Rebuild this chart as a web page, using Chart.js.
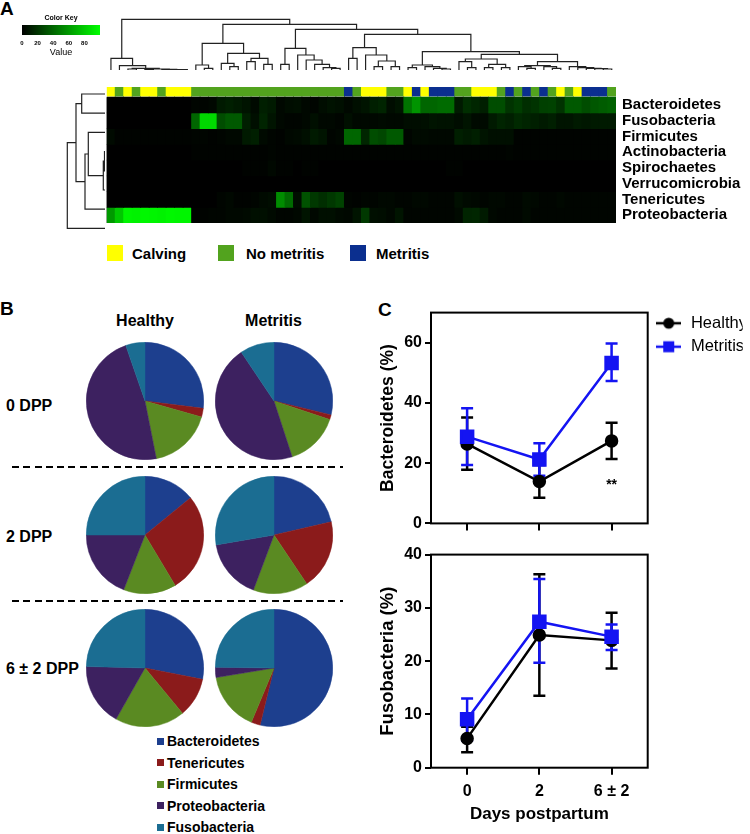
<!DOCTYPE html>
<html>
<head>
<meta charset="utf-8">
<script src="https://cdn.jsdelivr.net/npm/chart.js@4.4.1/dist/chart.umd.min.js"></script>
<style>
  html, body { margin: 0; padding: 0; background: #fff; }
  #fig { position: relative; width: 750px; height: 834px; overflow: hidden; font-family: Arial, "Liberation Sans", sans-serif; color: #000; }
  canvas { position: absolute; }
  .t { position: absolute; font-weight: bold; line-height: 1; white-space: nowrap; }
  .sw { position: absolute; }
  .dash { position: absolute; height: 2px; background: repeating-linear-gradient(90deg, #000 0 7px, transparent 7px 11.3px); }
</style>
</head>
<body>
<div id="fig">
  <div class="t" style="left:0;top:-1px;font-size:19px">A</div>
  <div class="t" style="left:0;top:299px;font-size:19px">B</div>
  <div class="t" style="left:378px;top:299.5px;font-size:19px">C</div>

  <!-- annotation legend -->
  <div class="sw" style="left:107px;top:245px;width:16px;height:16px;background:#ffff00"></div>
  <div class="t" style="left:132px;top:245.5px;font-size:15px">Calving</div>
  <div class="sw" style="left:217.5px;top:245px;width:16px;height:16px;background:#52a31e"></div>
  <div class="t" style="left:246px;top:245.5px;font-size:15px">No metritis</div>
  <div class="sw" style="left:350px;top:245px;width:16px;height:16px;background:#0b2f8f"></div>
  <div class="t" style="left:376px;top:245.5px;font-size:15px">Metritis</div>

  <!-- panel B labels -->
  <div class="t" style="left:75px;width:140px;text-align:center;top:313px;font-size:16px">Healthy</div>
  <div class="t" style="left:203.5px;width:140px;text-align:center;top:313px;font-size:16px">Metritis</div>
  <div class="t" style="left:6px;top:397.7px;font-size:16px">0 DPP</div>
  <div class="t" style="left:6px;top:528.5px;font-size:16px">2 DPP</div>
  <div class="t" style="left:6px;top:661.3px;font-size:16px">6 ± 2 DPP</div>
  <div class="dash" style="left:12px;width:331px;top:466px"></div>
  <div class="dash" style="left:12px;width:331px;top:600px"></div>
  <div id="pieLegend"></div>
</div>
<script>
// ---------- data ----------
const rowNames = ['Bacteroidetes', 'Fusobacteria', 'Firmicutes', 'Actinobacteria',
  'Spirochaetes', 'Verrucomicrobia', 'Tenericutes', 'Proteobacteria'];

// sample groups per heatmap column: Y = Calving, G = No metritis, B = Metritis
const sampleGroups = ('YGYGYYGYYY' + 'GGGGGGGGGGGGGGGGGG' + 'BG' +
  'YYYGGYBYBBBGGYYYGBGBGBGYGYBBBG').split('');
const groupColors = { Y: '#ffff00', G: '#52a31e', B: '#0b2f8f' };

const bacteroidetes = [0,0,0,0,0,0,0,0,0,0, 2,2,3,10,12,10,8,4,12,10, 3,5,6,3,2,5,7,6,3,6,
  8,12,14,5,8,45,58,40,40,42, 42,10,18,15,12,30,30,20,24,18, 20,25,26,20,35,35,30,34,36,38];
const fusobacteria = [0,0,0,0,0,0,0,0,0,0, 40,85,85,30,35,35,12,6,14,8, 3,2,2,3,6,3,3,2,6,3,
  3,3,4,3,3,5,5,6,8,7, 7,5,8,4,4,10,14,12,16,14, 12,10,12,8,8,10,9,10,10,10];
const firmicutes = [4,1,1,1,1,1,1,1,1,1, 2,2,1,2,3,3,10,12,4,2, 1,3,4,6,10,8,2,3,40,40,
  15,30,28,35,35,2,4,4,3,3, 3,12,10,12,8,6,6,6,1,1, 1,1,1,1,1,1,1,1,1,1];
const actinobacteria = [0,0,0,0,0,0,0,0,0,0, 1,1,1,1,1,1,1,1,1,2, 1,1,1,1,1,1,1,1,1,1,
  1,1,1,1,1,1,1,1,1,1, 1,1,1,1,1,1,1,2,1,1, 1,1,1,1,1,1,1,1,1,1];
const spirochaetes = [0,0,0,0,0,0,0,0,0,0, 0,0,0,0,0,0,1,1,1,3, 1,1,0,1,1,0,0,0,0,0,
  0,0,0,0,0,0,0,0,0,0, 1,1,0,0,0,0,0,0,0,0, 0,0,0,0,0,0,0,0,0,0];
const verrucomicrobia = new Array(60).fill(0);
const tenericutes = [0,0,0,0,0,0,0,0,0,0, 0,0,0,2,3,1,1,2,4,5, 55,42,5,32,22,18,22,26,2,1,
  2,2,3,3,2,2,3,3,2,2, 2,6,4,3,2,3,3,2,2,4, 3,2,2,3,2,2,2,2,2,2];
const proteobacteria = [60,78,96,95,97,96,95,97,96,96, 1,1,2,2,3,3,4,6,6,4, 2,2,3,8,3,6,6,4,3,8,
  22,6,5,3,8,2,2,2,2,2, 2,4,14,15,10,3,2,2,2,4, 2,2,2,2,2,2,2,2,2,2];
const heatRows = [bacteroidetes, fusobacteria, firmicutes, actinobacteria,
  spirochaetes, verrucomicrobia, tenericutes, proteobacteria];

// dendrograms: [left, right, height], leaves are column / row indices
const colTree =
  [[0, [1, [[2, 3, 3], [[4, 5, 2], [6, [7, [8, 9, 1], 1.5], 2], 3], 5], 13], 35],
   [[[10, [11, 12, 5], 15], [[13, [14, 15, 10], 20], [[16, 17, 25], [18, 19, 17], 35], 50], 80],
    [[[20, 21, 17], [22, [23, [24, [25, [26, 27, 5], 7], 17], 30], 45], 65],
     [[[28, 29, 35], [30, [[31, 32, 10], [33, 34, 10], 27], 45], 67],
      [[[35, 36, 7], [37, [38, [39, 40, 3], 5], 10], 15],
       [[[41, [42, 43, 7], 25], [[44, 45, 7], [46, 47, 7], 17], 33],
        [[[48, [49, 50, 5], 10], [51, [52, 53, 5], 10], 13],
         [54, [55, [56, [57, [58, 59, 3], 4], 5], 7], 10], 25], 47], 55], 107], 122], 137], 152];
const rowTree = [[[0, 1, 23.3], [[2, [[3, 4, 0.5], 5, 1.7], 16.7], 6, 20], 29], 7, 37.7];

const keyTicks = [0, 20, 40, 60, 80];
const keyRange = [0, 100];

// pies
const phyla = ['Bacteroidetes', 'Tenericutes', 'Firmicutes', 'Proteobacteria', 'Fusobacteria'];
const phylaColors = ['#1d3f8e', '#8b1b1b', '#5a8a22', '#3d2160', '#1b6d92'];
const healthy0 = [27.0, 2.4, 17.5, 47.8, 5.3];
const metritis0 = [28.8, 1.3, 14.9, 45.6, 9.4];
const healthy2 = [14.1, 27.3, 14.5, 19.1, 25.0];
const metritis2 = [21.4, 19.2, 15.1, 16.6, 27.7];
const healthy6 = [28.1, 10.9, 19.2, 17.2, 24.6];
const metritis6 = [53.8, 2.5, 16.1, 2.8, 24.8];

// line charts
const days = ['0', '2', '6 ± 2'];
const healthyBact = [26.4, 13.9, 27.4];
const healthyBactLo = [17.8, 8.5, 21.4];
const healthyBactHi = [35.2, 19.4, 33.4];
const metritisBact = [28.8, 21.2, 53.3];
const metritisBactLo = [19.4, 15.8, 47.3];
const metritisBactHi = [38.2, 26.6, 59.7];
const healthyFuso = [5.5, 24.9, 23.9];
const healthyFusoLo = [2.9, 13.5, 18.6];
const healthyFusoHi = [7.7, 36.3, 29.1];
const metritisFuso = [9.1, 27.4, 24.6];
const metritisFusoLo = [5.1, 19.7, 22.1];
const metritisFusoHi = [13.0, 35.4, 26.9];

// ---------- setup ----------
Chart.defaults.font.family = 'Arial, "Liberation Sans", sans-serif';
Chart.defaults.color = '#000';
Chart.defaults.animation = false;
Chart.defaults.responsive = false;
Chart.defaults.devicePixelRatio = 1;
Chart.defaults.plugins.legend.display = false;
Chart.defaults.plugins.tooltip.enabled = false;

const fig = document.getElementById('fig');
function makeCanvas(left, top, w, h) {
  const c = document.createElement('canvas');
  c.width = w; c.height = h;
  c.style.left = left + 'px'; c.style.top = top + 'px';
  c.style.width = w + 'px'; c.style.height = h + 'px';
  fig.appendChild(c);
  return c;
}

const heatColor = v => `rgb(0,${Math.round(2.55 * Math.min(v, 100))},0)`;

function dendroPoints(node, out) {
  if (typeof node === 'number') return [node, 0];
  const [a, b, h] = node;
  const pa = dendroPoints(a, out), pb = dendroPoints(b, out);
  out.push([pa[0], pa[1]], [pa[0], h], [pb[0], h], [pb[0], pb[1]], null);
  return [(pa[0] + pb[0]) / 2, h];
}

// ---------- colour key ----------
new Chart(makeCanvas(15, 10, 95, 50), {
  type: 'bar',
  data: {
    labels: [''],
    datasets: [{
      data: [keyRange],
      barPercentage: 1, categoryPercentage: 1, borderWidth: 0,
      backgroundColor: (ctx) => {
        const { chart } = ctx;
        if (!chart.chartArea) return '#000';
        const x = chart.scales.x;
        const g = chart.ctx.createLinearGradient(x.getPixelForValue(keyRange[0]), 0, x.getPixelForValue(keyRange[1]), 0);
        g.addColorStop(0, heatColor(keyRange[0]));
        g.addColorStop(1, heatColor(keyRange[1]));
        return g;
      }
    }]
  },
  options: {
    indexAxis: 'y',
    layout: { padding: { left: 7, right: 10, top: 0, bottom: 0 } },
    plugins: {
      title: { display: true, text: 'Color Key', font: { size: 7, weight: 'bold' }, padding: { top: 3.8, bottom: 2.8 } }
    },
    scales: {
      x: {
        type: 'linear', min: keyRange[0], max: keyRange[1],
        grid: { display: false, drawTicks: false }, border: { display: false },
        afterBuildTicks: (axis) => { axis.ticks = keyTicks.map(v => ({ value: v })); },
        afterFit: (axis) => { axis.height = 25; },
        ticks: { font: { size: 6, weight: 'bold' }, padding: 5, maxRotation: 0, autoSkip: false },
        title: { display: true, text: 'Value', font: { size: 9 }, padding: { top: 0, bottom: 2 } }
      },
      y: { display: false }
    }
  }
});

// ---------- column dendrogram ----------
const colPts = [];
dendroPoints(colTree, colPts);
new Chart(makeCanvas(100, 14, 650, 56), {
  type: 'scatter',
  data: {
    datasets: [{
      data: colPts.map(p => p ? { x: p[0], y: p[1] } : { x: null, y: null }),
      showLine: true, pointRadius: 0, borderColor: '#222', borderWidth: 1.2, clip: false
    }]
  },
  options: {
    layout: { padding: { left: 6.7, right: 134, top: 5.3, bottom: 0 } },
    scales: {
      x: { type: 'linear', display: false, min: -0.5, max: sampleGroups.length - 0.5 },
      y: { type: 'linear', display: false, min: 0, max: 152 }
    }
  }
});

// ---------- row dendrogram ----------
const rowPts = [];
dendroPoints(rowTree, rowPts);
new Chart(makeCanvas(55, 84, 50, 154), {
  type: 'scatter',
  data: {
    datasets: [{
      data: rowPts.map(p => p ? { x: p[1], y: rowNames.length - 0.5 - p[0] } : { x: null, y: null }),
      showLine: true, pointRadius: 0, borderColor: '#222', borderWidth: 1.2, clip: false
    }]
  },
  options: {
    layout: { padding: { top: 0.4 } },
    scales: {
      x: { type: 'linear', display: false, reverse: true, min: 0, max: 50 },
      y: { type: 'linear', display: false, min: 0, max: rowNames.length }
    }
  }
});

// ---------- heatmap ----------
const annotBand = [8.075, 8.65];
const heatBackground = {
  id: 'heatBackground',
  beforeDatasetsDraw(chart) {
    const { ctx, chartArea, scales: { y } } = chart;
    const top = y.getPixelForValue(rowNames.length), bottom = y.getPixelForValue(0);
    ctx.save();
    ctx.fillStyle = '#000';
    ctx.fillRect(chartArea.left, top, chartArea.right - chartArea.left, bottom - top);
    ctx.restore();
  }
};
const heatDatasets = heatRows.map((vals, r) => ({
  label: rowNames[r],
  data: vals.map(() => [rowNames.length - 1 - r, rowNames.length - r]),
  backgroundColor: vals.map(heatColor),
  grouped: false, barPercentage: 1, categoryPercentage: 1, borderWidth: 0, inflateAmount: 0.4
}));
heatDatasets.push({
  label: 'group',
  data: sampleGroups.map(() => annotBand),
  backgroundColor: sampleGroups.map(g => groupColors[g]),
  grouped: false, barPercentage: 1, categoryPercentage: 1, borderWidth: 0, inflateAmount: 0.4
});
new Chart(makeCanvas(100, 72, 650, 166), {
  type: 'bar',
  data: { labels: sampleGroups.map((g, i) => 'S' + (i + 1)), datasets: heatDatasets },
  options: {
    layout: { padding: { left: 6.7, right: 0, top: 0, bottom: 0 } },
    scales: {
      x: { display: false },
      y: {
        type: 'linear', position: 'right', min: 0, max: annotBand[1],
        grid: { display: false, drawTicks: false }, border: { display: false },
        afterBuildTicks: (axis) => { axis.ticks = rowNames.map((n, i) => ({ value: rowNames.length - 0.5 - i })); },
        afterFit: (axis) => { axis.width = 134; },
        ticks: { callback: (v, i) => rowNames[i], autoSkip: false, padding: 6, font: { size: 15, weight: 'bold' } }
      }
    }
  },
  plugins: [heatBackground]
});

// ---------- pies ----------
const pies = [
  [healthy0, 145, 400.5], [metritis0, 273.5, 400.5],
  [healthy2, 145, 535], [metritis2, 273.5, 535],
  [healthy6, 145, 668], [metritis6, 273.5, 667.5]
];
pies.forEach(([vals, cx, cy]) => {
  new Chart(makeCanvas(Math.round(cx - 59), Math.round(cy - 59), 118, 118), {
    type: 'pie',
    data: {
      labels: phyla,
      datasets: [{ data: vals, backgroundColor: phylaColors, borderColor: phylaColors, borderWidth: 0.5 }]
    },
    options: { layout: { padding: 0 } }
  });
});

const pieLegend = document.getElementById('pieLegend');
phyla.forEach((name, i) => {
  const cy = 741 + i * 21.6;
  pieLegend.insertAdjacentHTML('beforeend',
    `<div class="sw" style="left:157px;top:${cy - 3.5}px;width:7px;height:7px;background:${phylaColors[i]}"></div>` +
    `<div class="t" style="left:167px;top:${cy - 7}px;font-size:14px">${name}</div>`);
});

// ---------- line charts ----------
const errorBars = {
  id: 'errorBars',
  beforeDatasetsDraw(chart) {
    const { ctx, scales: { y } } = chart;
    chart.data.datasets.forEach((ds, i) => {
      const meta = chart.getDatasetMeta(i);
      ctx.save();
      ctx.strokeStyle = ds.borderColor;
      ctx.lineWidth = 2.5;
      meta.data.forEach((pt, j) => {
        const lo = y.getPixelForValue(ds.errLo[j]), hi = y.getPixelForValue(ds.errHi[j]);
        ctx.beginPath();
        ctx.moveTo(pt.x, lo); ctx.lineTo(pt.x, hi);
        ctx.moveTo(pt.x - 6, lo); ctx.lineTo(pt.x + 6, lo);
        ctx.moveTo(pt.x - 6, hi); ctx.lineTo(pt.x + 6, hi);
        ctx.stroke();
      });
      ctx.restore();
    });
  }
};
const frame = {
  id: 'frame',
  beforeDatasetsDraw(chart) {
    const { ctx, chartArea: a } = chart;
    ctx.save();
    ctx.strokeStyle = '#000';
    ctx.lineWidth = 2;
    ctx.strokeRect(a.left, a.top, a.right - a.left, a.bottom - a.top);
    ctx.restore();
  }
};
const starMark = {
  id: 'starMark',
  afterDatasetsDraw(chart) {
    const { ctx, scales: { x, y } } = chart;
    ctx.save();
    ctx.font = 'bold 14px Arial, "Liberation Sans", sans-serif';
    ctx.textAlign = 'center';
    ctx.textBaseline = 'middle';
    ctx.fillText('**', x.getPixelForValue(2), y.getPixelForValue(healthyBactLo[2]) + 26);
    ctx.restore();
  }
};

function legendIcon(color, style) {
  const c = document.createElement('canvas');
  c.width = 25; c.height = 14;
  const g = c.getContext('2d');
  g.strokeStyle = color; g.fillStyle = color; g.lineWidth = 2.5;
  g.beginPath(); g.moveTo(0, 7); g.lineTo(25, 7); g.stroke();
  if (style === 'circle') { g.beginPath(); g.arc(12.5, 7, 5.5, 0, Math.PI * 2); g.fill(); }
  else { g.fillRect(7, 1.5, 11, 11); }
  return c;
}
const blue = '#1414f2';
const legendIcons = [legendIcon('#000', 'circle'), legendIcon(blue, 'rect')];

function seriesSets(hMean, hLo, hHi, mMean, mLo, mHi) {
  return [
    { label: 'Healthy', data: hMean, errLo: hLo, errHi: hHi, borderColor: '#000', backgroundColor: '#000',
      borderWidth: 2.5, pointStyle: 'circle', pointRadius: 5.5, pointBackgroundColor: '#000', pointBorderColor: '#000', order: 1 },
    { label: 'Metritis', data: mMean, errLo: mLo, errHi: mHi, borderColor: blue, backgroundColor: blue,
      borderWidth: 2.5, pointStyle: 'rect', pointRadius: 8.5, pointBackgroundColor: blue, pointBorderColor: blue, order: 0 }
  ];
}
function yAxis(max, step, title, titleFont) {
  return {
    type: 'linear', min: 0, max: max,
    grid: { display: true, drawOnChartArea: false, tickLength: 6, color: '#000', lineWidth: 2 },
    border: { display: false },
    ticks: { stepSize: step, includeBounds: false, padding: 3, font: { size: 16, weight: 'bold' } },
    title: { display: true, text: title, font: titleFont,
      padding: { top: 18.3 - titleFont.size * 0.6, bottom: 0 } },
    afterFit: (axis) => { axis.width = 61; }
  };
}

new Chart(makeCanvas(370, 300, 380, 236), {
  type: 'line',
  data: { labels: days, datasets: seriesSets(healthyBact, healthyBactLo, healthyBactHi, metritisBact, metritisBactLo, metritisBactHi) },
  options: {
    layout: { padding: { left: 0, right: 7.3, top: 8, bottom: 0 } },
    plugins: {
      legend: {
        display: true, position: 'right', align: 'start', maxWidth: 95,
        labels: {
          usePointStyle: true, pointStyleWidth: 28, padding: 7, font: { size: 16.5 }, color: '#000',
          generateLabels: (chart) => chart.data.datasets.map((ds, i) => ({
            text: ds.label, pointStyle: legendIcons[i], datasetIndex: i, hidden: false,
            fontColor: '#000', lineWidth: 0, strokeStyle: 'transparent', fillStyle: 'transparent'
          }))
        }
      }
    },
    scales: {
      x: {
        type: 'category', offset: true,
        grid: { display: true, drawOnChartArea: false, tickLength: 7, color: '#000', lineWidth: 2 },
        border: { display: false },
        ticks: { display: false },
        afterFit: (axis) => { axis.height = 10.3; }
      },
      y: yAxis(70, 20, 'Bacteroidetes (%)',
        { size: 17.5, weight: 'bold', family: '"Liberation Sans Narrow", "Arial Narrow", sans-serif' })
    }
  },
  plugins: [frame, errorBars, starMark]
});

new Chart(makeCanvas(370, 542, 380, 292), {
  type: 'line',
  data: { labels: days, datasets: seriesSets(healthyFuso, healthyFusoLo, healthyFusoHi, metritisFuso, metritisFusoLo, metritisFusoHi) },
  options: {
    layout: { padding: { left: 0, right: 102.3, top: 8, bottom: 0 } },
    scales: {
      x: {
        type: 'category', offset: true,
        grid: { display: true, drawOnChartArea: false, tickLength: 7, color: '#000', lineWidth: 2 },
        border: { display: false },
        ticks: { padding: 7, maxRotation: 0, font: { size: 16, weight: 'bold' } },
        title: { display: true, text: 'Days postpartum', font: { size: 17, weight: 'bold' }, padding: { top: 0, bottom: 9 } },
        afterFit: (axis) => { axis.height = 66.3; }
      },
      y: yAxis(40, 10, 'Fusobacteria (%)', { size: 18.5, weight: 'bold' })
    }
  },
  plugins: [frame, errorBars]
});
</script>
</body>
</html>
